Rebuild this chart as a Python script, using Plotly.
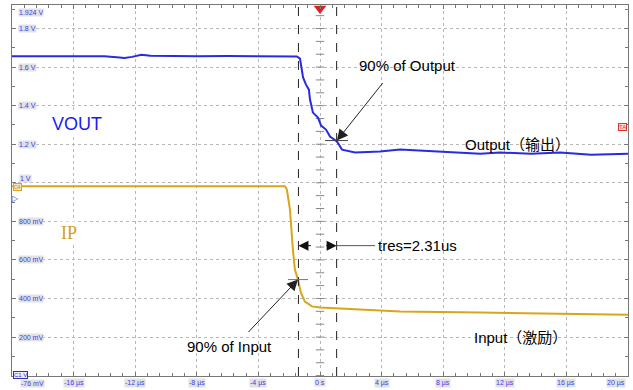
import plotly.graph_objects as go

# ---------------- data ----------------
t_out = [-20, -18, -16, -14, -13.2, -12.7, -12.2, -11.6, -11, -10, -8, -6, -4, -2.5, -1.5,
         -1.3, -1.17, -1.1, -0.91, -0.72, -0.65, -0.46, -0.13, 0.07, 0.39, 0.65, 1.1, 1.43,
         2.28, 3.9, 5.2, 6.5, 8.5, 10.4, 11.7, 13.7, 15.6, 17.6, 20]
v_out = [1.656, 1.657, 1.655, 1.656, 1.651, 1.647, 1.653, 1.664, 1.659, 1.657, 1.656, 1.658, 1.657, 1.656, 1.655,
         1.644, 1.561, 1.546, 1.509, 1.483, 1.432, 1.364, 1.338, 1.297, 1.276, 1.240, 1.214, 1.172,
         1.157, 1.162, 1.172, 1.167, 1.162, 1.151, 1.157, 1.151, 1.157, 1.146, 1.151]

t_in = [-20, -15, -10, -5, -2.28, -2.15, -1.95, -1.76, -1.63, -1.43, -1.24, -0.98, -0.52, 0,
        1.3, 5.2, 10.4, 20]
v_in = [0.982, 0.982, 0.981, 0.982, 0.982, 0.965, 0.861, 0.654, 0.550, 0.498, 0.430, 0.384, 0.359, 0.353,
        0.348, 0.332, 0.327, 0.316]

y_top_label = "1.924 V"
y_tick_vals = [1.8, 1.6, 1.4, 1.2, 1.0, 0.8, 0.6, 0.4, 0.2]
y_tick_text = ["1.8 V", "1.6 V", "1.4 V", "1.2 V", "1 V", "800 mV", "600 mV", "400 mV", "200 mV"]
x_tick_vals = [-16, -12, -8, -4, 0, 4, 8, 12, 16, 20]
x_tick_text = ["-16 µs", "-12 µs", "-8 µs", "-4 µs", "0 s", "4 µs", "8 µs", "12 µs", "16 µs", "20 µs"]

cursor_t = [-1.4, 1.08]
pt_in90 = (-1.43, 0.498)
pt_out90 = (1.1, 1.219)

BLUE = "#2a2ae0"
GOLD = "#d7a51e"
LBL_BLUE = "#3c3cf0"
FONT = "Liberation Sans, Arial, Noto Sans CJK SC"

fig = go.Figure()

# center vertical tick marks
cy = [i * 0.2 / 3 for i in range(0, 30)]
fig.add_trace(go.Scatter(x=[0] * len(cy), y=cy, mode="markers",
                         marker=dict(symbol="line-ew", size=6, line=dict(color="#888", width=1)),
                         hoverinfo="skip", showlegend=False))

fig.add_trace(go.Scatter(x=t_out, y=v_out, mode="lines", line=dict(color=BLUE, width=2),
                         showlegend=False))
fig.add_trace(go.Scatter(x=t_in, y=v_in, mode="lines", line=dict(color=GOLD, width=2),
                         showlegend=False))

# trigger marker
fig.add_trace(go.Scatter(x=[0], y=[1.904], mode="markers", cliponaxis=False,
                         marker=dict(symbol="triangle-down", size=11, color="#e02020"),
                         showlegend=False))

# cursors
for c in cursor_t:
    fig.add_shape(type="line", x0=c, x1=c, y0=0, y1=1, yref="paper", xref="x",
                  line=dict(color="#222", width=1, dash="dash"))

# short markers at 90% points
fig.add_shape(type="line", x0=-2.08, x1=-0.78, y0=pt_in90[1], y1=pt_in90[1],
              line=dict(color="#777", width=1))
fig.add_shape(type="line", x0=0.33, x1=1.82, y0=pt_out90[1], y1=pt_out90[1],
              line=dict(color="#444", width=1))
# tres line
fig.add_shape(type="line", x0=cursor_t[1], x1=3.58, y0=0.674, y1=0.674,
              line=dict(color="#555", width=1))

ann = []
# tick labels
ann.append(dict(x=-20, y=1, xref="x", yref="paper", text=y_top_label, showarrow=False,
                xanchor="left", yanchor="top", xshift=6, yshift=-3,
                font=dict(size=7, color=LBL_BLUE, family=FONT), bgcolor="#e2e2e2", borderpad=0))
for v, t in zip(y_tick_vals, y_tick_text):
    ann.append(dict(x=-20, y=v, xref="x", yref="y", text=t, showarrow=False, xanchor="left",
                    xshift=7 if v == 1.0 else 6, yshift=4 if v == 1.0 else 0,
                    font=dict(size=7, color=LBL_BLUE, family=FONT),
                    bgcolor="#e2e2e2", borderpad=0))
ann.append(dict(x=-20, y=0, xref="x", yref="y", text="-76 mV", showarrow=False, xanchor="left",
                xshift=8, yshift=-8, font=dict(size=7, color=LBL_BLUE, family=FONT),
                bgcolor="#e2e2e2", borderpad=0))
for v, t in zip(x_tick_vals, x_tick_text):
    ann.append(dict(x=v, y=0, xref="x", yref="y", text=t, showarrow=False,
                    xanchor="right" if v == 20 else "center", xshift=-2 if v == 20 else 0,
                    yshift=-7, font=dict(size=7, color=LBL_BLUE, family=FONT),
                    bgcolor="#e2e2e2", borderpad=0))

# channel labels
ann.append(dict(x=-15.8, y=1.307, text="VOUT", showarrow=False, bgcolor="white",
                font=dict(size=18, color="#1a1af0", family=FONT)))
ann.append(dict(x=-16.3, y=0.742, text="IP", showarrow=False, bgcolor="white",
                font=dict(size=18, color="#cf9f25", family="Liberation Serif, Times New Roman")))

# channel tags
ann.append(dict(x=-20, y=0.982, text="C4", showarrow=False, xanchor="left", xshift=1, yshift=-1,
                font=dict(size=5, color="#b08a20", family=FONT), bgcolor="#f3e6bf",
                bordercolor=GOLD, borderwidth=1, borderpad=0))
ann.append(dict(x=-20, y=0.92, text="▷", showarrow=False, xanchor="left", xshift=-2,
                font=dict(size=8, color="#3050e0", family="DejaVu Sans")))
ann.append(dict(x=-20, y=0.0, text="C1 V", showarrow=False, xanchor="left", xshift=1, yshift=1,
                font=dict(size=6, color="#3030c0", family=FONT), bgcolor="#eef",
                bordercolor="#3030c0", borderwidth=1, borderpad=0))
ann.append(dict(x=20, y=1.29, text="TA", showarrow=False, xanchor="right", xshift=-1,
                font=dict(size=6, color="#e03030", family=FONT), bgcolor="#fde0e0",
                bordercolor="#e03030", borderwidth=1, borderpad=0))

# text annotations
ann.append(dict(x=5.69, y=1.608, text="90% of Output", showarrow=False,
                font=dict(size=15, color="black", family=FONT)))
ann.append(dict(x=12.8, y=1.198, text="Output（输出）", showarrow=False,
                font=dict(size=15, color="black", family=FONT)))
ann.append(dict(x=6.31, y=0.674, text="tres=2.31us", showarrow=False,
                font=dict(size=15, color="black", family=FONT)))
ann.append(dict(x=-5.85, y=0.150, text="90% of Input", showarrow=False,
                font=dict(size=15, color="black", family=FONT)))
ann.append(dict(x=13.0, y=0.197, text="Input（激励）", showarrow=False,
                font=dict(size=15, color="black", family=FONT)))

# arrows
ann.append(dict(x=pt_out90[0], y=pt_out90[1], ax=47, ay=-59, showarrow=True, text="",
                arrowhead=2, arrowsize=2.2, arrowwidth=1, arrowcolor="#222", standoff=0))
ann.append(dict(x=pt_in90[0], y=pt_in90[1], ax=-51, ay=54, showarrow=True, text="",
                arrowhead=2, arrowsize=2.2, arrowwidth=1, arrowcolor="#222", standoff=0))
ann.append(dict(x=cursor_t[0], y=0.674, ax=14, ay=0, showarrow=True, text="",
                arrowhead=2, arrowsize=2.0, arrowwidth=1, arrowcolor="#111", standoff=0))
ann.append(dict(x=cursor_t[1], y=0.674, ax=-12, ay=0, showarrow=True, text="",
                arrowhead=2, arrowsize=2.0, arrowwidth=1, arrowcolor="#111", standoff=0))

fig.update_layout(
    width=633, height=390,
    margin=dict(l=12, r=5, t=5, b=14),
    paper_bgcolor="white", plot_bgcolor="white",
    annotations=ann,
    xaxis=dict(range=[-20, 20], tick0=0, dtick=4, showgrid=True, griddash="dot",
               gridcolor="#b8b8b8", gridwidth=1, zeroline=False, showticklabels=False,
               ticks="inside", ticklen=4, tickcolor="#777", showline=True, linecolor="#777",
               mirror="allticks",
               minor=dict(dtick=0.8, tick0=0, ticks="inside", ticklen=3, tickcolor="#777",
                          showgrid=False)),
    yaxis=dict(range=[-0.002, 1.922], tick0=0, dtick=0.2, showgrid=True, griddash="dot",
               gridcolor="#b8b8b8", gridwidth=1, zeroline=False, showticklabels=False,
               ticks="inside", ticklen=4, tickcolor="#777", showline=True, linecolor="#777",
               mirror="allticks",
               minor=dict(dtick=0.1, tick0=0, ticks="inside", ticklen=3, tickcolor="#777",
                          showgrid=False)),
)

fig.write_html("out.html")
